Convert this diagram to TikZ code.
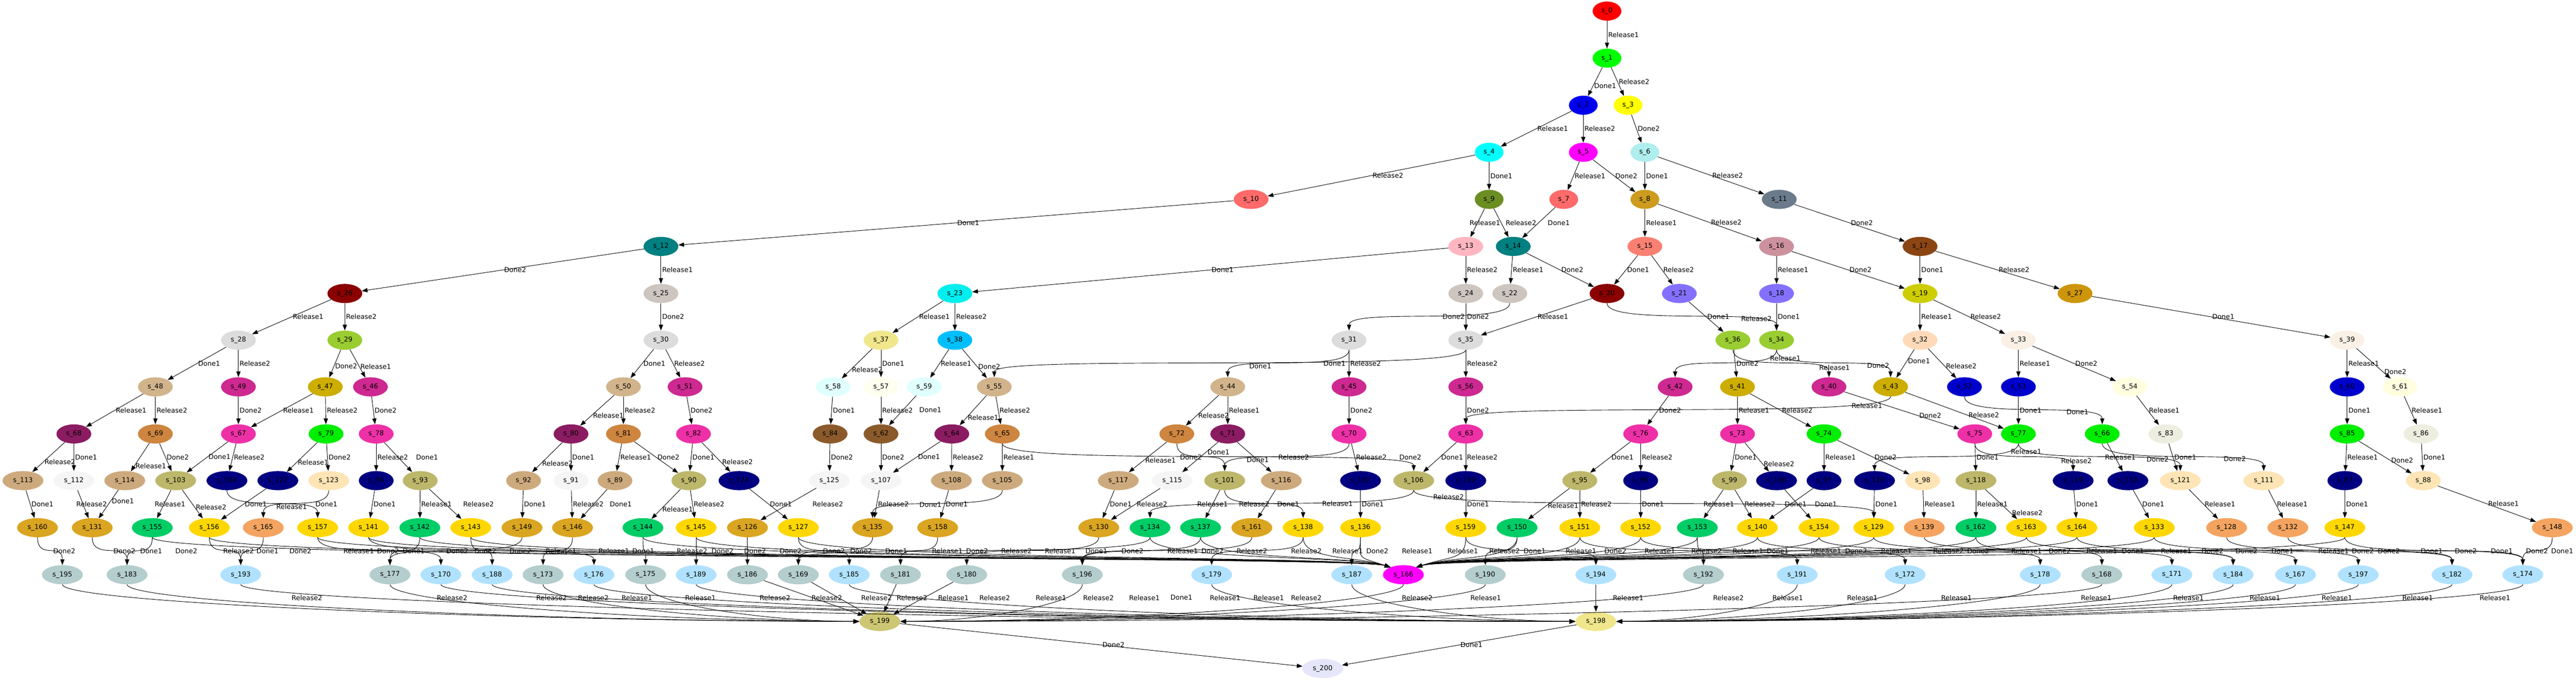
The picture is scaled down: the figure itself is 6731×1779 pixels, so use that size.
\documentclass[tikz,border=0pt]{standalone}
\usepackage{fontspec}
\setmainfont{DejaVu Sans}
\usetikzlibrary{shapes.geometric}
\usetikzlibrary{arrows.meta}

% state colours
\definecolor{cRed}{HTML}{FF0000}
\definecolor{cGreen}{HTML}{00FF00}
\definecolor{cBlue}{HTML}{0000EE}
\definecolor{cYellow}{HTML}{FFFF00}
\definecolor{cCyan}{HTML}{00FFFF}
\definecolor{cMagenta}{HTML}{FF00FF}
\definecolor{cPaleTurq}{HTML}{AFEEEE}
\definecolor{cIndian}{HTML}{FF6A6A}
\definecolor{cGoldThree}{HTML}{CD9B1D}
\definecolor{cOlive}{HTML}{6B8E23}
\definecolor{cSlate}{HTML}{6C7B8B}
\definecolor{cTeal}{HTML}{008080}
\definecolor{cPink}{HTML}{FFB6C1}
\definecolor{cSalmon}{HTML}{FA8072}
\definecolor{cRose}{HTML}{CD919E}
\definecolor{cSaddle}{HTML}{8B4513}
\definecolor{cLilac}{HTML}{8470FF}
\definecolor{cYellowThree}{HTML}{CDCD00}
\definecolor{cDarkRed}{HTML}{8B0000}
\definecolor{cShell}{HTML}{CDC5BF}
\definecolor{cCyanTwo}{HTML}{00EEEE}
\definecolor{cAmber}{HTML}{CD950C}
\definecolor{cGains}{HTML}{DCDCDC}
\definecolor{cYGreen}{HTML}{9ACD32}
\definecolor{cPeach}{HTML}{FFDAB9}
\definecolor{cLinen}{HTML}{FAF0E6}
\definecolor{cKhaki}{HTML}{F0E68C}
\definecolor{cSky}{HTML}{00BFFF}
\definecolor{cViolet}{HTML}{CD2990}
\definecolor{cMustard}{HTML}{CDAD00}
\definecolor{cTan}{HTML}{D2B48C}
\definecolor{cMidBlue}{HTML}{0000CD}
\definecolor{cLYellow}{HTML}{FFFFE0}
\definecolor{cIvory}{HTML}{FFFFF0}
\definecolor{cLCyan}{HTML}{E0FFFF}
\definecolor{cBark}{HTML}{8B5A2B}
\definecolor{cRosy}{HTML}{EE30A7}
\definecolor{cPlum}{HTML}{8B1C62}
\definecolor{cPeru}{HTML}{CD853F}
\definecolor{cLime}{HTML}{00EE00}
\definecolor{cIvoryTwo}{HTML}{EEEEE0}
\definecolor{cBurly}{HTML}{CDAA7D}
\definecolor{cSmoke}{HTML}{F5F5F5}
\definecolor{cDKhaki}{HTML}{BDB76B}
\definecolor{cNavy}{HTML}{000080}
\definecolor{cMocc}{HTML}{FFE4B5}
\definecolor{cRod}{HTML}{DAA520}
\definecolor{cGold}{HTML}{FFD700}
\definecolor{cSpring}{HTML}{00CD66}
\definecolor{cSandy}{HTML}{F4A460}
\definecolor{cFog}{HTML}{B4CDCD}
\definecolor{cBaby}{HTML}{B0E2FF}
\definecolor{cOlivine}{HTML}{CDC673}
\definecolor{cLav}{HTML}{E6E6FA}

\begin{document}
\begin{tikzpicture}[x=0.02cm, y=-0.02cm, font=\fontsize{10}{12}\selectfont]

% Define styles
\tikzset{
    st/.style={ellipse, fill=#1, inner xsep=0.24cm, inner ysep=0pt, minimum height=1cm},
    move/.style={-{Triangle[length=0.3cm, width=0.22cm]}, line width=0.7pt},
    lbl/.style={anchor=west, inner sep=1.5pt},
    sway/.style={to path={(\tikztostart.south) .. controls +(0,60) and +(0,-60) .. (\tikztotarget.north) \tikztonodes}},
    hubw/.style={to path={(\tikztostart.south) .. controls +(0,60) and +(-90,-30) .. (\tikztotarget.150) \tikztonodes}},
    hube/.style={to path={(\tikztostart.south) .. controls +(0,60) and +(90,-30) .. (\tikztotarget.30) \tikztonodes}},
    sinkw/.style={to path={(\tikztostart.south) .. controls +(0,50) and +(-#1,0) .. (\tikztotarget.west) \tikztonodes}},
    sinke/.style={to path={(\tikztostart.south) .. controls +(0,50) and +(#1,0) .. (\tikztotarget.east) \tikztonodes}}
}

% whole picture, pixel units
\useasboundingbox (0,0) rectangle (6731,1779);

% level 0 - 3
\node[st=cRed] (s0) at (4199,29) {s\_0};
\node[st=cGreen] (s1) at (4199,152) {s\_1};
\node[st=cBlue] (s2) at (4137,275) {s\_2};
\node[st=cYellow] (s3) at (4254,275) {s\_3};
\node[st=cCyan] (s4) at (3891,398) {s\_4};
\node[st=cMagenta] (s5) at (4137,398) {s\_5};
\node[st=cPaleTurq] (s6) at (4298,398) {s\_6};

% level 4
\node[st=cIndian] (s10) at (3269,521) {s\_10};
\node[st=cOlive] (s9) at (3891,521) {s\_9};
\node[st=cIndian] (s7) at (4086,521) {s\_7};
\node[st=cGoldThree] (s8) at (4298,521) {s\_8};
\node[st=cSlate] (s11) at (4649,521) {s\_11};

% level 5
\node[st=cTeal] (s12) at (1727,644) {s\_12};
\node[st=cPink] (s13) at (3830,644) {s\_13};
\node[st=cTeal] (s14) at (3954,644) {s\_14};
\node[st=cSalmon] (s15) at (4298,644) {s\_15};
\node[st=cRose] (s16) at (4642,644) {s\_16};
\node[st=cSaddle] (s17) at (5017,644) {s\_17};

% level 6
\node[st=cDarkRed] (s26) at (901,767) {s\_26};
\node[st=cShell] (s25) at (1727,767) {s\_25};
\node[st=cCyanTwo] (s23) at (2495,767) {s\_23};
\node[st=cShell] (s24) at (3830,767) {s\_24};
\node[st=cShell] (s22) at (3945,767) {s\_22};
\node[st=cDarkRed] (s20) at (4199,767) {s\_20};
\node[st=cLilac] (s21) at (4388,767) {s\_21};
\node[st=cLilac] (s18) at (4642,767) {s\_18};
\node[st=cYellowThree] (s19) at (5017,767) {s\_19};
\node[st=cAmber] (s27) at (5422,767) {s\_27};

% level 7
\node[st=cGains] (s28) at (623,889) {s\_28};
\node[st=cYGreen] (s29) at (901,889) {s\_29};
\node[st=cGains] (s30) at (1727,889) {s\_30};
\node[st=cKhaki] (s37) at (2302,889) {s\_37};
\node[st=cSky] (s38) at (2495,889) {s\_38};
\node[st=cGains] (s31) at (3525,889) {s\_31};
\node[st=cGains] (s35) at (3830,889) {s\_35};
\node[st=cYGreen] (s36) at (4528,889) {s\_36};
\node[st=cYGreen] (s34) at (4642,889) {s\_34};
\node[st=cPeach] (s32) at (5017,889) {s\_32};
\node[st=cLinen] (s33) at (5274,889) {s\_33};
\node[st=cLinen] (s39) at (6133,889) {s\_39};

% level 8
\node[st=cTan] (s48) at (406,1011) {s\_48};
\node[st=cViolet] (s49) at (623,1011) {s\_49};
\node[st=cMustard] (s47) at (850,1011) {s\_47};
\node[st=cViolet] (s46) at (968,1011) {s\_46};
\node[st=cTan] (s50) at (1629,1011) {s\_50};
\node[st=cViolet] (s51) at (1790,1011) {s\_51};
\node[st=cLCyan] (s58) at (2177,1011) {s\_58};
\node[st=cIvory] (s57) at (2302,1011) {s\_57};
\node[st=cLCyan] (s59) at (2415,1011) {s\_59};
\node[st=cTan] (s55) at (2598,1011) {s\_55};
\node[st=cTan] (s44) at (3208,1011) {s\_44};
\node[st=cViolet] (s45) at (3525,1011) {s\_45};
\node[st=cViolet] (s56) at (3830,1011) {s\_56};
\node[st=cViolet] (s42) at (4377,1011) {s\_42};
\node[st=cMustard] (s41) at (4540,1011) {s\_41};
\node[st=cViolet] (s40) at (4779,1011) {s\_40};
\node[st=cMustard] (s43) at (4940,1011) {s\_43};
\node[st=cMidBlue] (s52) at (5133,1011) {s\_52};
\node[st=cMidBlue] (s53) at (5274,1011) {s\_53};
\node[st=cLYellow] (s54) at (5565,1011) {s\_54};
\node[st=cMidBlue] (s60) at (6133,1011) {s\_60};
\node[st=cLYellow] (s61) at (6271,1011) {s\_61};

% level 9
\node[st=cPlum] (s68) at (193,1134) {s\_68};
\node[st=cPeru] (s69) at (406,1134) {s\_69};
\node[st=cRosy] (s67) at (623,1134) {s\_67};
\node[st=cLime] (s79) at (852,1134) {s\_79};
\node[st=cRosy] (s78) at (983,1134) {s\_78};
\node[st=cPlum] (s80) at (1492,1134) {s\_80};
\node[st=cPeru] (s81) at (1629,1134) {s\_81};
\node[st=cRosy] (s82) at (1812,1134) {s\_82};
\node[st=cBark] (s84) at (2169,1134) {s\_84};
\node[st=cBark] (s62) at (2302,1134) {s\_62};
\node[st=cPlum] (s64) at (2487,1134) {s\_64};
\node[st=cPeru] (s65) at (2619,1134) {s\_65};
\node[st=cPeru] (s72) at (3075,1134) {s\_72};
\node[st=cPlum] (s71) at (3208,1134) {s\_71};
\node[st=cRosy] (s70) at (3525,1134) {s\_70};
\node[st=cRosy] (s63) at (3830,1134) {s\_63};
\node[st=cRosy] (s76) at (4287,1134) {s\_76};
\node[st=cRosy] (s73) at (4540,1134) {s\_73};
\node[st=cLime] (s74) at (4766,1134) {s\_74};
\node[st=cRosy] (s75) at (5160,1134) {s\_75};
\node[st=cLime] (s77) at (5274,1134) {s\_77};
\node[st=cLime] (s66) at (5493,1134) {s\_66};
\node[st=cIvoryTwo] (s83) at (5659,1134) {s\_83};
\node[st=cLime] (s85) at (6133,1134) {s\_85};
\node[st=cIvoryTwo] (s86) at (6326,1134) {s\_86};

% level 10
\node[st=cBurly] (s113) at (60,1256) {s\_113};
\node[st=cSmoke] (s112) at (193,1256) {s\_112};
\node[st=cBurly] (s114) at (326,1256) {s\_114};
\node[st=cDKhaki] (s103) at (459,1256) {s\_103};
\node[st=cNavy] (s104) at (593,1256) {s\_104};
\node[st=cNavy] (s122) at (726,1256) {s\_122};
\node[st=cMocc] (s123) at (859,1256) {s\_123};
\node[st=cNavy] (s94) at (983,1256) {s\_94};
\node[st=cDKhaki] (s93) at (1098,1256) {s\_93};
\node[st=cBurly] (s92) at (1368,1256) {s\_92};
\node[st=cSmoke] (s91) at (1492,1256) {s\_91};
\node[st=cBurly] (s89) at (1607,1256) {s\_89};
\node[st=cDKhaki] (s90) at (1800,1256) {s\_90};
\node[st=cNavy] (s124) at (1931,1256) {s\_124};
\node[st=cSmoke] (s125) at (2167,1256) {s\_125};
\node[st=cSmoke] (s107) at (2302,1256) {s\_107};
\node[st=cBurly] (s108) at (2486,1256) {s\_108};
\node[st=cBurly] (s105) at (2619,1256) {s\_105};
\node[st=cBurly] (s117) at (2922,1256) {s\_117};
\node[st=cSmoke] (s115) at (3063,1256) {s\_115};
\node[st=cDKhaki] (s101) at (3200,1256) {s\_101};
\node[st=cBurly] (s116) at (3348,1256) {s\_116};
\node[st=cNavy] (s102) at (3555,1256) {s\_102};
\node[st=cDKhaki] (s106) at (3694,1256) {s\_106};
\node[st=cNavy] (s109) at (3830,1256) {s\_109};
\node[st=cDKhaki] (s95) at (4128,1256) {s\_95};
\node[st=cNavy] (s96) at (4287,1256) {s\_96};
\node[st=cDKhaki] (s99) at (4519,1256) {s\_99};
\node[st=cNavy] (s100) at (4642,1256) {s\_100};
\node[st=cNavy] (s97) at (4766,1256) {s\_97};
\node[st=cNavy] (s120) at (4898,1256) {s\_120};
\node[st=cMocc] (s98) at (5024,1256) {s\_98};
\node[st=cDKhaki] (s118) at (5163,1256) {s\_118};
\node[st=cNavy] (s119) at (5417,1256) {s\_119};
\node[st=cNavy] (s110) at (5560,1256) {s\_110};
\node[st=cMocc] (s121) at (5697,1256) {s\_121};
\node[st=cMocc] (s111) at (5915,1256) {s\_111};
\node[st=cNavy] (s87) at (6127,1256) {s\_87};
\node[st=cMocc] (s88) at (6332,1256) {s\_88};

% level 11
\node[st=cRod] (s160) at (98,1379) {s\_160};
\node[st=cRod] (s131) at (241,1379) {s\_131};
\node[st=cSpring] (s155) at (398,1379) {s\_155};
\node[st=cGold] (s156) at (547,1379) {s\_156};
\node[st=cSandy] (s165) at (688,1379) {s\_165};
\node[st=cGold] (s157) at (830,1379) {s\_157};
\node[st=cGold] (s141) at (963,1379) {s\_141};
\node[st=cSpring] (s142) at (1097,1379) {s\_142};
\node[st=cGold] (s143) at (1230,1379) {s\_143};
\node[st=cRod] (s149) at (1364,1379) {s\_149};
\node[st=cRod] (s146) at (1496,1379) {s\_146};
\node[st=cSpring] (s144) at (1680,1379) {s\_144};
\node[st=cGold] (s145) at (1819,1379) {s\_145};
\node[st=cRod] (s126) at (1953,1379) {s\_126};
\node[st=cGold] (s127) at (2086,1379) {s\_127};
\node[st=cRod] (s135) at (2280,1379) {s\_135};
\node[st=cRod] (s158) at (2450,1379) {s\_158};
\node[st=cRod] (s130) at (2871,1379) {s\_130};
\node[st=cSpring] (s134) at (3005,1379) {s\_134};
\node[st=cSpring] (s137) at (3137,1379) {s\_137};
\node[st=cRod] (s161) at (3271,1379) {s\_161};
\node[st=cGold] (s138) at (3405,1379) {s\_138};
\node[st=cGold] (s136) at (3555,1379) {s\_136};
\node[st=cGold] (s159) at (3830,1379) {s\_159};
\node[st=cSpring] (s150) at (3964,1379) {s\_150};
\node[st=cGold] (s151) at (4128,1379) {s\_151};
\node[st=cGold] (s152) at (4287,1379) {s\_152};
\node[st=cSpring] (s153) at (4435,1379) {s\_153};
\node[st=cGold] (s140) at (4592,1379) {s\_140};
\node[st=cGold] (s154) at (4753,1379) {s\_154};
\node[st=cGold] (s129) at (4896,1379) {s\_129};
\node[st=cSandy] (s139) at (5028,1379) {s\_139};
\node[st=cSpring] (s162) at (5163,1379) {s\_162};
\node[st=cGold] (s163) at (5295,1379) {s\_163};
\node[st=cGold] (s164) at (5427,1379) {s\_164};
\node[st=cGold] (s133) at (5629,1379) {s\_133};
\node[st=cSandy] (s128) at (5818,1379) {s\_128};
\node[st=cSandy] (s132) at (5978,1379) {s\_132};
\node[st=cGold] (s147) at (6127,1379) {s\_147};
\node[st=cSandy] (s148) at (6669,1379) {s\_148};

% level 12
\node[st=cFog] (s195) at (163,1502) {s\_195};
\node[st=cFog] (s183) at (332,1502) {s\_183};
\node[st=cBaby] (s193) at (629,1502) {s\_193};
\node[st=cFog] (s177) at (1019,1502) {s\_177};
\node[st=cBaby] (s170) at (1152,1502) {s\_170};
\node[st=cBaby] (s188) at (1286,1502) {s\_188};
\node[st=cFog] (s173) at (1419,1502) {s\_173};
\node[st=cBaby] (s176) at (1552,1502) {s\_176};
\node[st=cFog] (s175) at (1687,1502) {s\_175};
\node[st=cBaby] (s189) at (1819,1502) {s\_189};
\node[st=cFog] (s186) at (1953,1502) {s\_186};
\node[st=cFog] (s169) at (2086,1502) {s\_169};
\node[st=cBaby] (s185) at (2219,1502) {s\_185};
\node[st=cFog] (s181) at (2353,1502) {s\_181};
\node[st=cFog] (s180) at (2526,1502) {s\_180};
\node[st=cFog] (s196) at (2828,1502) {s\_196};
\node[st=cBaby] (s179) at (3166,1502) {s\_179};
\node[st=cBaby] (s187) at (3532,1502) {s\_187};
\node[st=cMagenta] (s166) at (3667,1502) {s\_166};
\node[st=cFog] (s190) at (3881,1502) {s\_190};
\node[st=cBaby] (s194) at (4170,1502) {s\_194};
\node[st=cFog] (s192) at (4451,1502) {s\_192};
\node[st=cBaby] (s191) at (4696,1502) {s\_191};
\node[st=cBaby] (s172) at (4978,1502) {s\_172};
\node[st=cBaby] (s178) at (5331,1502) {s\_178};
\node[st=cFog] (s168) at (5492,1502) {s\_168};
\node[st=cBaby] (s171) at (5675,1502) {s\_171};
\node[st=cBaby] (s184) at (5835,1502) {s\_184};
\node[st=cBaby] (s167) at (5998,1502) {s\_167};
\node[st=cBaby] (s197) at (6162,1502) {s\_197};
\node[st=cBaby] (s182) at (6407,1502) {s\_182};
\node[st=cBaby] (s174) at (6592,1502) {s\_174};

% level 13 - 14
\node[st=cOlivine] (s199) at (2299,1624) {s\_199};
\node[st=cKhaki] (s198) at (4170,1624) {s\_198};
\node[st=cLav] (s200) at (3456,1747) {s\_200};

% transitions, top part
\draw[move] (s0) -- node[lbl] {Release1} (s1);
\draw[move] (s1) -- node[lbl, pos=0.65] {Done1} (s2);
\draw[move] (s1) -- node[lbl] {Release2} (s3);
\draw[move] (s2) -- node[lbl] {Release1} (s4);
\draw[move] (s2) -- node[lbl] {Release2} (s5);
\draw[move] (s3) -- node[lbl] {Done2} (s6);
\draw[move] (s4) -- node[lbl] {Release2} (s10);
\draw[move] (s4) -- node[lbl] {Done1} (s9);
\draw[move] (s5) -- node[lbl] {Release1} (s7);
\draw[move] (s5) -- node[lbl] {Done2} (s8);
\draw[move] (s6) -- node[lbl] {Done1} (s8);
\draw[move] (s6) -- node[lbl] {Release2} (s11);
\draw[move] (s10) -- node[lbl] {Done1} (s12);
\draw[move] (s9) -- (s13) node[lbl] at (3837,582) {Release1};
\draw[move] (s9) -- (s14) node[lbl] at (3931,582) {Release2};
\draw[move] (s7) -- (s14) node[lbl] at (4041,582) {Done1};
\draw[move] (s8) -- node[lbl] {Release1} (s15);
\draw[move] (s8) -- node[lbl] {Release2} (s16);
\draw[move] (s11) -- node[lbl] {Done2} (s17);
\draw[move] (s12) -- node[lbl] {Done2} (s26);
\draw[move] (s12) -- node[lbl] {Release1} (s25);
\draw[move] (s13) -- node[lbl] {Done1} (s23);
\draw[move] (s13) -- node[lbl] {Release2} (s24);
\draw[move] (s14) -- node[lbl] {Release1} (s22);
\draw[move] (s14) -- node[lbl] {Done2} (s20);
\draw[move] (s15) -- node[lbl] {Done1} (s20);
\draw[move] (s15) -- node[lbl] {Release2} (s21);
\draw[move] (s16) -- node[lbl] {Release1} (s18);
\draw[move] (s16) -- node[lbl] {Done2} (s19);
\draw[move] (s17) -- node[lbl] {Done1} (s19);
\draw[move] (s17) -- node[lbl] {Release2} (s27);
\draw[move] (s26) -- node[lbl] {Release1} (s28);
\draw[move] (s26) -- node[lbl] {Release2} (s29);
\draw[move] (s25) -- node[lbl] {Done2} (s30);
\draw[move] (s23) -- node[lbl] {Release1} (s37);
\draw[move] (s23) -- node[lbl] {Release2} (s38);
\draw[move] (s24) -- node[lbl] {Done2} (s35);
\draw[move] (s22) to[sway] node[lbl, pos=0.45] {Done2} (s31);
\draw[move] (s20) -- node[lbl] {Release1} (s35);
\draw[move] (s20) to[sway] node[lbl, pos=0.7] {Release2} (s34);
\draw[move] (s21) -- node[lbl] {Done1} (s36);
\draw[move] (s18) -- node[lbl] {Done1} (s34);
\draw[move] (s19) -- node[lbl] {Release1} (s32);
\draw[move] (s19) -- node[lbl] {Release2} (s33);
\draw[move] (s27) -- node[lbl] {Done1} (s39);
\draw[move] (s28) -- node[lbl] {Done1} (s48);
\draw[move] (s28) -- node[lbl] {Release2} (s49);
\draw[move] (s29) -- node[lbl, pos=0.6] {Done2} (s47);
\draw[move] (s29) -- node[lbl, pos=0.6] {Release1} (s46);
\draw[move] (s30) -- node[lbl] {Done1} (s50);
\draw[move] (s30) -- node[lbl] {Release2} (s51);
\draw[move] (s37) -- node[lbl, pos=0.71] {Release2} (s58);
\draw[move] (s37) -- node[lbl] {Done1} (s57);
\draw[move] (s38) -- node[lbl] {Release1} (s59);
\draw[move] (s38) -- node[lbl, pos=0.6] {Done2} (s55);
\draw[move] (s31) to[sway] node[lbl, pos=0.74] {Done1} (s44);
\draw[move] (s31) -- node[lbl] {Release2} (s45);
\draw[move] (s35) to[sway] (s55) node[lbl] at (3455,950) {Done1};
\draw[move] (s35) -- node[lbl] {Release2} (s56);
\draw[move] (s36) -- node[lbl] {Done2} (s41);
\draw[move] (s36) to[sway] node[lbl, pos=0.79] {Release1} (s40);
\draw[move] (s34) to[sway] node[lbl, pos=0.17] {Release1} (s42);
\draw[move] (s34) to[sway] node[lbl, pos=0.7] {Done2} (s43);
\draw[move] (s32) -- node[lbl, pos=0.42] {Done1} (s43);
\draw[move] (s32) -- node[lbl, pos=0.59] {Release2} (s52);
\draw[move] (s33) -- node[lbl] {Release1} (s53);
\draw[move] (s33) -- node[lbl] {Done2} (s54);
\draw[move] (s39) -- node[lbl] {Release1} (s60);
\draw[move] (s39) -- node[lbl, pos=0.78] {Done2} (s61);

% level 8 to 9
\draw[move] (s48) -- node[lbl] {Release1} (s68);
\draw[move] (s48) -- node[lbl] {Release2} (s69);
\draw[move] (s49) -- node[lbl] {Done2} (s67);
\draw[move] (s47) -- node[lbl] {Release1} (s67);
\draw[move] (s47) -- node[lbl] {Release2} (s79);
\draw[move] (s46) -- node[lbl] {Done2} (s78);
\draw[move] (s50) -- node[lbl, pos=0.66] {Release1} (s80);
\draw[move] (s50) -- node[lbl] {Release2} (s81);
\draw[move] (s51) -- node[lbl] {Done2} (s82);
\draw[move] (s58) -- node[lbl] {Done1} (s84);
\draw[move] (s57) -- node[lbl] {Release2} (s62);
\draw[move] (s59) -- (s62) node[lbl] at (2399,1072) {Done1};
\draw[move] (s55) -- node[lbl, pos=0.74] {Release1} (s64);
\draw[move] (s55) -- node[lbl] {Release2} (s65);
\draw[move] (s44) -- node[lbl, pos=0.66] {Release2} (s72);
\draw[move] (s44) -- node[lbl] {Release1} (s71);
\draw[move] (s45) -- node[lbl] {Done2} (s70);
\draw[move] (s56) -- node[lbl] {Done2} (s63);
\draw[move] (s42) -- node[lbl] {Done2} (s76);
\draw[move] (s41) -- node[lbl] {Release1} (s73);
\draw[move] (s41) -- node[lbl] {Release2} (s74);
\draw[move] (s43) to[sway] node[lbl, pos=0.19] {Release1} (s63);
\draw[move] (s43) -- node[lbl, pos=0.63] {Release2} (s77);
\draw[move] (s40) -- node[lbl, pos=0.64] {Done2} (s75);
\draw[move] (s52) to[sway] node[lbl, pos=0.66] {Done1} (s66);
\draw[move] (s53) -- node[lbl] {Done1} (s77);
\draw[move] (s54) -- node[lbl] {Release1} (s83);
\draw[move] (s60) -- node[lbl] {Done1} (s85);
\draw[move] (s61) -- node[lbl] {Release1} (s86);

% level 9 to 10
\draw[move] (s68) -- node[lbl, pos=0.66] {Release2} (s113);
\draw[move] (s68) -- node[lbl] {Done1} (s112);
\draw[move] (s69) -- node[lbl, pos=0.81] {Release1} (s114);
\draw[move] (s69) -- node[lbl] {Done2} (s103);
\draw[move] (s67) -- node[lbl] {Done1} (s103);
\draw[move] (s67) -- node[lbl] {Release2} (s104);
\draw[move] (s79) -- node[lbl, pos=0.68] {Release1} (s122);
\draw[move] (s79) -- node[lbl] {Done2} (s123);
\draw[move] (s78) -- node[lbl] {Release2} (s94);
\draw[move] (s78) -- (s93) node[lbl] at (1084,1195) {Done1};
\draw[move] (s80) -- node[lbl, pos=0.71] {Release2} (s92);
\draw[move] (s80) -- node[lbl] {Done1} (s91);
\draw[move] (s81) -- node[lbl] {Release1} (s89);
\draw[move] (s81) -- node[lbl] {Done2} (s90);
\draw[move] (s82) -- node[lbl] {Done1} (s90);
\draw[move] (s82) -- node[lbl, pos=0.67] {Release2} (s124);
\draw[move] (s84) -- node[lbl] {Done2} (s125);
\draw[move] (s62) -- node[lbl] {Done2} (s107);
\draw[move] (s64) -- node[lbl] {Done1} (s107);
\draw[move] (s64) -- node[lbl] {Release2} (s108);
\draw[move] (s65) -- node[lbl] {Release1} (s105);
\draw[move] (s65) to[sway] (s106) node[lbl] at (3653,1195) {Done2};
\draw[move] (s72) -- node[lbl, pos=0.6] {Release1} (s117);
\draw[move] (s72) to[sway] (s101) node[lbl] at (3080,1195) {Done2};
\draw[move] (s71) -- node[lbl, pos=0.33] {Done1} (s115);
\draw[move] (s71) -- (s116) node[lbl] at (3337,1195) {Release2};
\draw[move] (s70) to[sway] node[lbl, pos=0.74] {Done1} (s101);
\draw[move] (s70) -- node[lbl] {Release2} (s102);
\draw[move] (s63) -- node[lbl] {Done1} (s106);
\draw[move] (s63) -- node[lbl] {Release2} (s109);
\draw[move] (s76) -- node[lbl] {Done1} (s95);
\draw[move] (s76) -- node[lbl] {Release2} (s96);
\draw[move] (s73) -- node[lbl] {Done1} (s99);
\draw[move] (s73) -- node[lbl, pos=0.73] {Release2} (s100);
\draw[move] (s74) -- node[lbl] {Release1} (s97);
\draw[move] (s74) -- node[lbl] {Done2} (s98);
\draw[move] (s77) to[sway] node[lbl, pos=0.15] {Release1} (s120);
\draw[move] (s75) -- node[lbl] {Done1} (s118);
\draw[move] (s75) to[sway] node[lbl, pos=0.77] {Release2} (s119);
\draw[move] (s77) to[sway] node[lbl, pos=0.7] {Done2} (s121);
\draw[move] (s66) -- (s110) node[lbl] at (5497,1195) {Release1};
\draw[move] (s66) to[sway] node[lbl, pos=0.67] {Done2} (s111);
\draw[move] (s83) -- node[lbl] {Done1} (s121);
\draw[move] (s85) -- node[lbl] {Release1} (s87);
\draw[move] (s85) -- node[lbl, pos=0.59] {Done2} (s88);
\draw[move] (s86) -- node[lbl] {Done1} (s88);

% level 10 to 11
\draw[move] (s113) -- node[lbl] {Done1} (s160);
\draw[move] (s112) -- (s131) node[lbl] at (196,1318) {Release2};
\draw[move] (s114) -- node[lbl, pos=0.39] {Done1} (s131);
\draw[move] (s103) -- (s155) node[lbl] at (401,1318) {Release1};
\draw[move] (s103) -- node[lbl, pos=0.6] {Release2} (s156);
\draw[move] (s104) to[sway] (s157) node[lbl] at (821,1318) {Done1};
\draw[move] (s122) -- node[lbl] {Done1} (s156);
\draw[move] (s123) to[sway] node[lbl, pos=0.73] {Release1} (s165);
\draw[move] (s94) -- node[lbl] {Done1} (s141);
\draw[move] (s93) -- node[lbl] {Release1} (s142);
\draw[move] (s93) -- (s143) node[lbl] at (1207,1318) {Release2};
\draw[move] (s92) -- node[lbl] {Done1} (s149);
\draw[move] (s91) -- node[lbl] {Release2} (s146);
\draw[move] (s89) -- (s146) node[lbl] at (1590,1318) {Done1};
\draw[move] (s90) -- node[lbl, pos=0.67] {Release1} (s144);
\draw[move] (s90) -- node[lbl] {Release2} (s145);
\draw[move] (s124) -- node[lbl] {Done1} (s127);
\draw[move] (s125) -- (s126) node[lbl] at (2120,1318) {Release2};
\draw[move] (s107) -- node[lbl] {Release2} (s135);
\draw[move] (s105) to[sway] node[lbl, pos=0.6] {Done1} (s135);
\draw[move] (s108) -- node[lbl] {Done1} (s158);
\draw[move] (s117) -- node[lbl] {Done1} (s130);
\draw[move] (s115) -- node[lbl] {Release2} (s130);
\draw[move] (s101) -- (s137) node[lbl] at (3125,1318) {Release1};
\draw[move] (s101) to[sway] (s138) node[lbl] at (3234,1318) {Release2};
\draw[move] (s116) -- (s161) node[lbl] at (3334,1318) {Done1};
\draw[move] (s102) -- node[lbl] {Done1} (s136);
\draw[move] (s106) to[sway] node[lbl, pos=0.4] {Release1} (s134);
\draw[move] (s106) to[sway] node[lbl, pos=0.12] {Release2} (s129);
\draw[move] (s109) -- node[lbl] {Done1} (s159);
\draw[move] (s95) -- node[lbl, pos=0.55] {Release1} (s150);
\draw[move] (s95) -- node[lbl] {Release2} (s151);
\draw[move] (s96) -- node[lbl] {Done1} (s152);
\draw[move] (s99) -- (s153) node[lbl] at (4448,1318) {Release1};
\draw[move] (s99) -- node[lbl] {Release2} (s140);
\draw[move] (s100) -- (s154) node[lbl] at (4739,1318) {Done1};
\draw[move] (s97) -- (s140) node[lbl] at (4660,1318) {Done1};
\draw[move] (s120) -- node[lbl] {Done1} (s129);
\draw[move] (s98) -- node[lbl] {Release1} (s139);
\draw[move] (s118) -- node[lbl] {Release1} (s162);
\draw[move] (s118) -- node[lbl, pos=0.8] {Release2} (s163);
\draw[move] (s119) -- node[lbl] {Done1} (s164);
\draw[move] (s110) -- node[lbl] {Done1} (s133);
\draw[move] (s121) -- node[lbl] {Release1} (s128);
\draw[move] (s111) -- node[lbl] {Release1} (s132);
\draw[move] (s87) -- node[lbl] {Done1} (s147);
\draw[move] (s88) -- node[lbl] {Release1} (s148);

% level 11 to 12, finishing moves
\draw[move] (s160) to[sway] (s195) node[lbl] at (136,1440) {Done2};
\draw[move] (s131) to[sway] (s183) node[lbl] at (293,1440) {Done2};
\draw[move] (s155) to[sway] (s183) node[lbl] at (363,1440) {Done1};
\draw[move] (s156) to[sway] (s193) node[lbl] at (455,1440) {Done2};
\draw[move] (s165) to[sway] (s193) node[lbl] at (667,1440) {Done1};
\draw[move] (s157) to[sway] (s170) node[lbl] at (753,1440) {Done2};
\draw[move] (s141) to[sway] (s176) node[lbl] at (982,1440) {Done2};
\draw[move] (s142) to[sway] (s177) node[lbl] at (1049,1440) {Done1};
\draw[move] (s143) to[sway] (s188) node[lbl] at (1163,1440) {Done2};
\draw[move] (s149) to[sway] (s177) node[lbl] at (1236,1440) {Done2};
\draw[move] (s146) to[sway] (s173) node[lbl] at (1328,1440) {Done2};
\draw[move] (s144) to[sway] (s175) node[lbl] at (1649,1440) {Done1};
\draw[move] (s145) to[sway] (s189) node[lbl] at (1856,1440) {Done2};
\draw[move] (s126) to[sway] (s186) node[lbl] at (1941,1440) {Done2};
\draw[move] (s127) to[sway] (s185) node[lbl] at (2034,1440) {Done2};
\draw[move] (s135) to[sway] (s169) node[lbl] at (2147,1440) {Done2};
\draw[move] (s158) to[sway] (s181) node[lbl] at (2218,1440) {Done2};
\draw[move] (s134) to[sway] (s169) node[lbl] at (2310,1440) {Done1};
\draw[move] (s130) to[sway] (s180) node[lbl] at (2521,1440) {Done2};
\draw[move] (s137) to[sway] (s196) node[lbl] at (2833,1440) {Done1};
\draw[move] (s161) to[sway] (s196) node[lbl] at (2927,1440) {Done2};
\draw[move] (s138) to[sway] (s179) node[lbl] at (3136,1440) {Done2};
\draw[move] (s136) to[sway] (s187) node[lbl] at (3567,1440) {Done2};
\draw[move] (s150) to[sway] (s190) node[lbl] at (3978,1440) {Done1};
\draw[move] (s159) to[sway] (s194) node[lbl] at (4189,1440) {Done2};
\draw[move] (s153) to[sway] (s192) node[lbl] at (4613,1440) {Done1};
\draw[move] (s151) to[sway] (s191) node[lbl] at (4818,1440) {Done2};
\draw[move] (s152) to[sway] (s172) node[lbl] at (5137,1440) {Done2};
\draw[move] (s140) to[sway] (s178) node[lbl] at (5350,1440) {Done2};
\draw[move] (s162) to[sway] (s168) node[lbl] at (5541,1440) {Done1};
\draw[move] (s154) to[sway] (s171) node[lbl] at (5749,1440) {Done2};
\draw[move] (s129) to[sway] (s184) node[lbl] at (5838,1440) {Done2};
\draw[move] (s139) to[sway] (s184) node[lbl] at (5932,1440) {Done1};
\draw[move] (s163) to[sway] (s167) node[lbl] at (6142,1440) {Done2};
\draw[move] (s164) to[sway] (s197) node[lbl] at (6210,1440) {Done2};
\draw[move] (s128) to[sway] (s182) node[lbl] at (6322,1440) {Done1};
\draw[move] (s133) to[sway] (s182) node[lbl] at (6411,1440) {Done2};
\draw[move] (s132) to[sway] (s174) node[lbl] at (6505,1440) {Done1};
\draw[move] (s147) to[sway] (s174) node[lbl] at (6597,1440) {Done2};
\draw[move] (s148) to[sway] (s174) node[lbl] at (6663,1440) {Done1};

% level 11 to 12, into s_166
\draw[move] (s155) to[hubw] (s166) node[lbl] at (580,1440) {Release2};
\draw[move] (s156) to[hubw] (s166) node[lbl] at (894,1440) {Release1};
\draw[move] (s157) to[hubw] (s166) node[lbl] at (1423,1440) {Release1};
\draw[move] (s141) to[hubw] (s166) node[lbl] at (1561,1440) {Release1};
\draw[move] (s142) to[hubw] (s166) node[lbl] at (1765,1440) {Release2};
\draw[move] (s143) to[hubw] (s166) node[lbl] at (2432,1440) {Release1};
\draw[move] (s144) to[hubw] (s166) node[lbl] at (2613,1440) {Release2};
\draw[move] (s145) to[hubw] (s166) node[lbl] at (2727,1440) {Release1};
\draw[move] (s127) to[hubw] (s166) node[lbl] at (3047,1440) {Release1};
\draw[move] (s134) to[hubw] (s166) node[lbl] at (3228,1440) {Release2};
\draw[move] (s137) to[hubw] (s166) node[lbl] at (3370,1440) {Release2};
\draw[move] (s138) to[hubw] (s166) node[lbl] at (3478,1440) {Release1};
\draw[move] (s136) to[hubw] (s166) node[lbl] at (3660,1440) {Release1};
\draw[move] (s159) to[hube] (s166) node[lbl] at (3779,1440) {Release1};
\draw[move] (s150) to[hube] (s166) node[lbl] at (3888,1440) {Release2};
\draw[move] (s151) to[hube] (s166) node[lbl] at (4088,1440) {Release1};
\draw[move] (s152) to[hube] (s166) node[lbl] at (4294,1440) {Release1};
\draw[move] (s153) to[hube] (s166) node[lbl] at (4416,1440) {Release2};
\draw[move] (s140) to[hube] (s166) node[lbl] at (4524,1440) {Release1};
\draw[move] (s154) to[hube] (s166) node[lbl] at (4728,1440) {Release1};
\draw[move] (s129) to[hube] (s166) node[lbl] at (4912,1440) {Release1};
\draw[move] (s162) to[hube] (s166) node[lbl] at (5048,1440) {Release2};
\draw[move] (s163) to[hube] (s166) node[lbl] at (5252,1440) {Release1};
\draw[move] (s164) to[hube] (s166) node[lbl] at (5449,1440) {Release1};
\draw[move] (s133) to[hube] (s166) node[lbl] at (5643,1440) {Release1};
\draw[move] (s147) to[hube] (s166) node[lbl] at (6054,1440) {Release1};

% level 12 to the two final waiting states
\draw[move] (s195) to[sinkw=850] (s199) node[lbl] at (759,1562) {Release2};
\draw[move] (s183) to[sinkw=790] (s199) node[lbl] at (1138,1562) {Release2};
\draw[move] (s177) to[sinkw=510] (s199) node[lbl] at (1398,1562) {Release2};
\draw[move] (s173) to[sinkw=350] (s199) node[lbl] at (1507,1562) {Release2};
\draw[move] (s175) to[sinkw=245] (s199) node[lbl] at (1982,1562) {Release2};
\draw[move] (s186) -- (s199) node[lbl] at (2117,1562) {Release2};
\draw[move] (s169) -- (s199) node[lbl] at (2247,1562) {Release2};
\draw[move] (s181) -- (s199) node[lbl] at (2340,1562) {Release2};
\draw[move] (s180) -- (s199) node[lbl] at (2556,1562) {Release2};
\draw[move] (s196) to[sinke=210] (s199) node[lbl] at (2827,1562) {Release2};
\draw[move] (s190) to[sinke=630] (s199) node[lbl] at (3370,1562) {Release2};
\draw[move] (s192) to[sinke=860] (s199) node[lbl] at (3660,1562) {Release2};
\draw[move] (s168) to[sinke=1280] (s199) node[lbl] at (4473,1562) {Release2};
\draw[move] (s166) to[sinke=550] (s199) node[lbl] at (3055,1562) {Done1};
\draw[move] (s193) to[sinkw=1400] (s198) node[lbl] at (1621,1562) {Release1};
\draw[move] (s170) to[sinkw=1200] (s198) node[lbl] at (1787,1562) {Release1};
\draw[move] (s188) to[sinkw=1150] (s198) node[lbl] at (2448,1562) {Release1};
\draw[move] (s176) to[sinkw=1050] (s198) node[lbl] at (2703,1562) {Release1};
\draw[move] (s189) to[sinkw=940] (s198) node[lbl] at (2947,1562) {Release1};
\draw[move] (s185) to[sinkw=780] (s198) node[lbl] at (3158,1562) {Release1};
\draw[move] (s179) to[sinkw=400] (s198) node[lbl] at (3272,1562) {Release1};
\draw[move] (s187) to[sinkw=255] (s198) node[lbl] at (3839,1562) {Release1};
\draw[move] (s194) -- (s198) node[lbl] at (4211,1562) {Release1};
\draw[move] (s191) to[sinke=210] (s198) node[lbl] at (4628,1562) {Release1};
\draw[move] (s172) to[sinke=320] (s198) node[lbl] at (4823,1562) {Release1};
\draw[move] (s178) to[sinke=460] (s198) node[lbl] at (5069,1562) {Release1};
\draw[move] (s171) to[sinke=600] (s198) node[lbl] at (5434,1562) {Release1};
\draw[move] (s184) to[sinke=670] (s198) node[lbl] at (5675,1562) {Release1};
\draw[move] (s167) to[sinke=730] (s198) node[lbl] at (5875,1562) {Release1};
\draw[move] (s197) to[sinke=800] (s198) node[lbl] at (6063,1562) {Release1};
\draw[move] (s182) to[sinke=900] (s198) node[lbl] at (6274,1562) {Release1};
\draw[move] (s174) to[sinke=970] (s198) node[lbl] at (6476,1562) {Release1};

% end state
\draw[move] (s199) -- node[lbl] {Done2} (s200);
\draw[move] (s198) -- node[lbl] {Done1} (s200);

\end{tikzpicture}
\end{document}
